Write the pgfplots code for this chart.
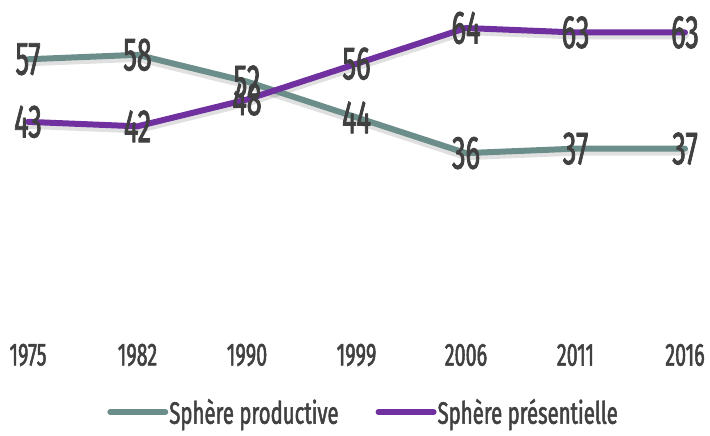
\documentclass[border=0pt]{standalone}
\usepackage{pgfplots}
\pgfplotsset{compat=1.18}
\usepackage{fontspec}
\setmainfont{Fira Sans}
\newfontfamily\dfont[FakeStretch=0.58, FakeBold=1.6]{Fira Sans}
\newfontfamily\yfont[FakeStretch=0.62, FakeBold=1.6]{Fira Sans}
\newfontfamily\lfont[FakeStretch=0.66, FakeBold=1.6]{Fira Sans}
\definecolor{prodc}{HTML}{6B8E8A}
\definecolor{presc}{HTML}{7030A0}
\definecolor{txt}{HTML}{404040}
\begin{document}
\begin{tikzpicture}[x=1bp,y=1bp]
\path[use as bounding box] (-28bp,-122bp) rectangle (682bp,314bp);
\begin{axis}[
  at={(0,0)}, anchor=south west,
  scale only axis, width=657bp, height=286bp,
  xmin=0, xmax=6, ymin=0, ymax=64,
  enlargelimits=false, clip=false,
  axis line style={draw=none}, major tick length=0pt,
  xtick={0,...,6},
  xticklabels={1975,1982,1990,1999,2006,2011,2016},
  xticklabel style={anchor=center, yshift=-41bp, font=\yfont\fontsize{32}{32}\selectfont, text=txt},
  ytick=\empty,
  /pgf/number format/assume math mode=true,
  nodes near coords,
  every node near coord/.append style={anchor=center, font=\dfont\fontsize{47}{47}\selectfont, text=txt},
  legend columns=2,
  legend style={draw=none, fill=none, at={(0.51,-0.343)}, anchor=center, font=\lfont\fontsize{31}{31}\selectfont, text=txt,
    /tikz/every even column/.append style={column sep=36bp}, inner sep=0pt,
    nodes={inner xsep=1bp}},
  legend image code/.code={\draw[line width=6bp, line cap=round] (0bp,0bp) -- (55bp,0bp);},
]
\addplot[black, opacity=0.12, line width=8bp, line cap=round, line join=round, yshift=-3bp, forget plot, nodes near coords={}] coordinates {(0,57)(1,58)(2,52)(3,44)(4,36)(5,37)(6,37)};
\addplot[black, opacity=0.12, line width=8bp, line cap=round, line join=round, yshift=-3bp, forget plot, nodes near coords={}] coordinates {(0,43)(1,42)(2,48)(3,56)(4,64)(5,63)(6,63)};
\addplot[prodc, line width=6bp, line cap=round, line join=round] coordinates {(0,57)(1,58)(2,52)(3,44)(4,36)(5,37)(6,37)};
\addlegendentry{Sphère productive}
\addplot[presc, line width=6bp, line cap=round, line join=round] coordinates {(0,43)(1,42)(2,48)(3,56)(4,64)(5,63)(6,63)};
\addlegendentry{Sphère présentielle}
\end{axis}
\end{tikzpicture}
\end{document}
